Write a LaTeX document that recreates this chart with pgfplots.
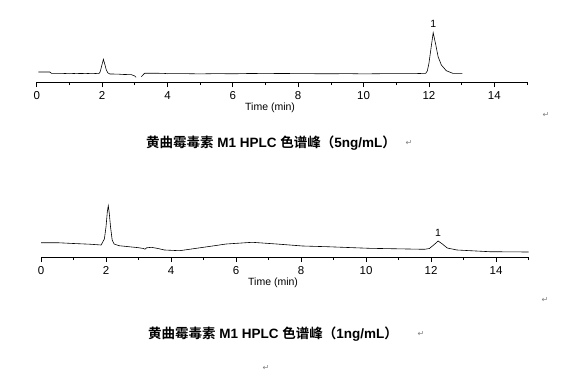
\documentclass[border=0pt]{standalone}
\usepackage{fontspec}
\setmainfont{Liberation Sans}
\newfontfamily\cjkb[BoldFont=*]{Noto Sans CJK SC Bold}
\newfontfamily\djv{DejaVu Sans}
\usepackage{pgfplots}
\pgfplotsset{compat=1.18}
\begin{document}
\begin{tikzpicture}
\path (0pt,0pt) rectangle (568pt,376pt);
\pgfplotsset{chrom/.style={
  scale only axis, xmin=0, xmax=15, ymin=0,
  axis x line=bottom, axis y line=none, axis line style={-, line width=0.7pt},
  xtick={0,2,...,14}, minor xtick={1,3,...,15},
  tick align=outside, major tick length=5pt, minor tick length=3pt,
  every tick/.style={black, line width=0.7pt},
  /pgf/number format/assume math mode=true,
  ticklabel style={font=\fontsize{11.5}{12}\selectfont},
  xticklabel style={yshift=-1pt},
  xlabel={Time (min)},
  every axis x label/.style={at={(axis description cs:0.476,0)}, anchor=center, yshift=-26pt, font=\fontsize{10.5}{12}\selectfont},
  clip=false}}
% top chromatogram (5 ng/mL)
\begin{axis}[chrom, at={(36.7pt,294pt)}, anchor=south west, width=490.3pt, height=62pt, ymax=62]
\addplot[black, line width=0.6pt] coordinates {
(0.05,10) (0.40,10) (0.45,8.7) (0.8,8.6) (1.0,8.3) (1.2,8.6) (1.5,8.4) (1.7,8.7) (1.90,8.3)
(1.94,10) (1.98,15) (2.04,22.7) (2.09,17) (2.13,12) (2.18,9) (2.24,8)
(2.5,7.9) (2.6,7.6) (2.90,7.3) (3.00,6) (3.04,4.7)};
\addplot[black, line width=0.6pt] coordinates {
(3.20,5.3) (3.30,8.7) (3.6,8.8) (3.9,8.6) (4.0,8.3) (4.5,8.4) (5.0,8.1) (5.5,8.4) (6.0,8.2) (6.5,8.5)
(7.0,8.4) (7.5,8.5) (8.0,8.4) (8.5,8.3) (9.0,8.2) (9.5,8.4) (10.0,8.1) (10.5,8.3) (11.0,8.4) (11.5,8.3) (11.9,8.7)
(11.95,11) (12.00,18.7) (12.07,35.3) (12.13,49.3) (12.21,37) (12.28,25.3)
(12.38,17) (12.53,11.3) (12.73,8.7) (13.02,8.7)};
\node[font=\fontsize{10.5}{12}\selectfont] at (axis cs:12.13,58) {1};
\end{axis}
% bottom chromatogram (1 ng/mL)
\begin{axis}[chrom, at={(41pt,119pt)}, anchor=south west, width=487.5pt, height=62pt, ymax=62]
\addplot[black, line width=0.6pt] coordinates {
(0,14.3) (0.5,14.3) (1.0,13.5) (1.5,12.8) (1.85,12)
(1.95,18) (2.00,30) (2.04,45) (2.07,51.3) (2.10,44) (2.14,30) (2.19,17) (2.25,13)
(2.4,11.3) (3.0,9.3) (3.15,8.5) (3.2,7.8) (3.25,9.2) (3.4,9.7) (3.6,8.5) (3.8,7)
(4.26,6.3) (5.0,9.7) (5.7,13) (6.5,14.7) (7.25,13) (8.05,11) (8.8,10.3)
(10.1,8.7) (11.8,7.7) (11.95,8.5) (12.1,12.5) (12.22,16) (12.35,13) (12.5,9)
(12.8,7) (13.8,5.3) (15.0,5)};
\node[font=\fontsize{10.5}{12}\selectfont] at (axis cs:12.22,23.7) {1};
\end{axis}
% captions
\node[font=\fontsize{13.5}{15}\selectfont] at (271pt,233pt) {{\cjkb 黄曲霉毒素} \textbf{M1 HPLC} {\cjkb 色谱峰（}\textbf{5ng/mL}{\cjkb ）}};
\node[font=\fontsize{13.5}{15}\selectfont] at (273pt,42pt) {{\cjkb 黄曲霉毒素} \textbf{M1 HPLC} {\cjkb 色谱峰（}\textbf{1ng/mL}{\cjkb ）}};
% paragraph marks
\begin{scope}[every node/.style={font=\djv\fontsize{8}{9}\selectfont, text=black!50}]
\node at (546pt,261pt) {↵};
\node at (409pt,233pt) {↵};
\node at (545pt,76pt) {↵};
\node at (421pt,42pt) {↵};
\node at (266pt,8pt) {↵};
\end{scope}
\end{tikzpicture}
\end{document}
